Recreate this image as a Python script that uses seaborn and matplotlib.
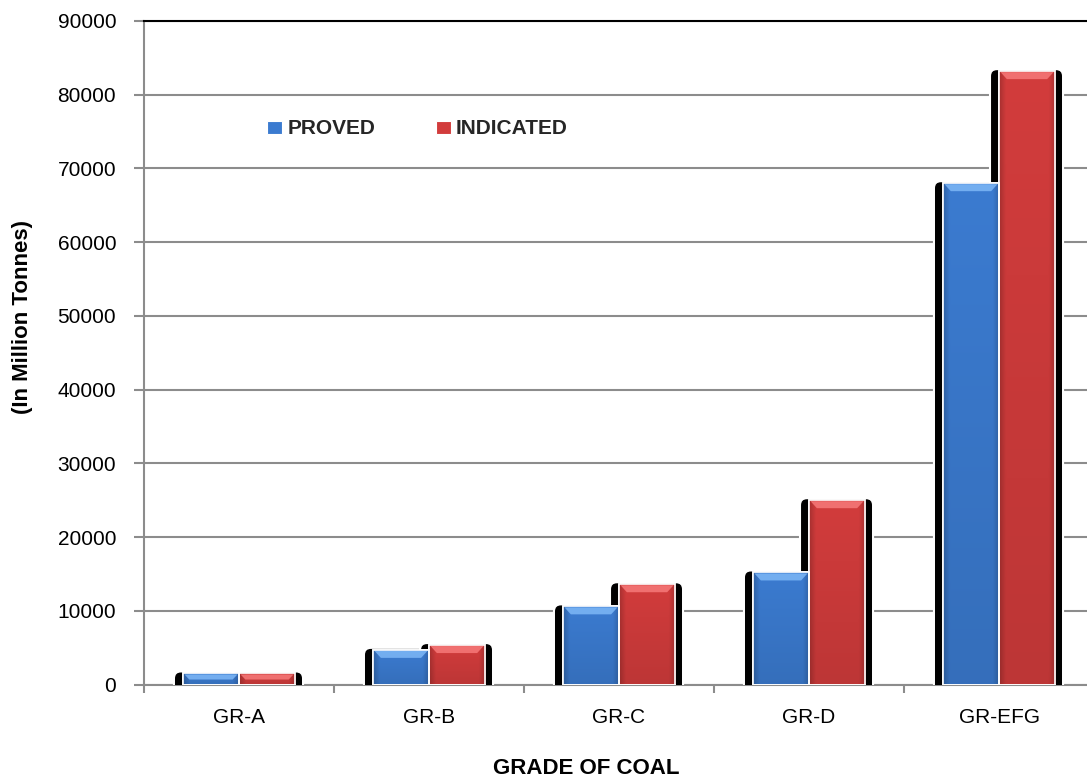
import numpy as np
import pandas as pd
import matplotlib
matplotlib.use("Agg")
import matplotlib.pyplot as plt
import seaborn as sns
from matplotlib.patches import FancyBboxPatch, Polygon, Patch
from matplotlib.transforms import IdentityTransform
from matplotlib.colors import to_rgb

# Coal reserves by grade (million tonnes)
grades = ["GR-A", "GR-B", "GR-C", "GR-D", "GR-EFG"]
proved = [1500, 4700, 10600, 15200, 68000]
indicated = [1500, 5350, 13600, 25000, 83200]
series = ["PROVED", "INDICATED"]
y_ticks = list(range(0, 90001, 10000))

colors = {"PROVED": "#3b7bd0", "INDICATED": "#d23c3c"}
highlights = {"PROVED": "#7ab4f4", "INDICATED": "#f47676"}

sns.set_theme(style="white")
plt.rcParams["font.family"] = ["Liberation Sans", "DejaVu Sans"]

df = pd.DataFrame({
    "grade": grades * 2,
    "reserve": proved + indicated,
    "type": [series[0]] * len(grades) + [series[1]] * len(grades),
})

W, H = 1087, 781
fig = plt.figure(figsize=(W / 100, H / 100), dpi=100)
ax = fig.add_axes([144 / W, 96.5 / H, 950 / W, 663.5 / H])

sns.barplot(data=df, x="grade", y="reserve", hue="type", hue_order=series,
            palette=colors, width=0.59, edgecolor="white", linewidth=1.2,
            saturation=1, legend=False, ax=ax, zorder=3)

ax.set_xlim(-0.5, len(grades) - 0.5)
ax.set_ylim(0, 90000)
ax.set_yticks(y_ticks)
ax.set_yticklabels([str(v) for v in y_ticks])
ax.set_xlabel("")
ax.set_ylabel("")

grey = "#8c8c8c"
ax.yaxis.grid(True, color=grey, linewidth=1.5)
ax.set_axisbelow(True)
for side in ("left", "bottom"):
    ax.spines[side].set_color(grey)
    ax.spines[side].set_linewidth(1.5)
ax.spines["top"].set_color("black")
ax.spines["top"].set_linewidth(1.5)
ax.spines["right"].set_visible(False)

ax.tick_params(axis="y", left=True, length=7, width=1.5, color=grey,
               pad=13, labelsize=15, labelcolor="black")
ax.set_xticks(np.arange(-0.5, len(grades), 1.0), minor=True)
ax.tick_params(axis="x", which="minor", bottom=True, length=6, width=1.5, color=grey)
ax.tick_params(axis="x", which="major", length=0, pad=17, labelsize=15, labelcolor="black")

# Shadows and bevel shading for each bar
bars = [p for p in ax.patches]
for i, bar in enumerate(bars):
    key = series[i // len(grades)]
    x0, y0 = bar.get_x(), bar.get_y()
    w, h = bar.get_width(), bar.get_height()
    (px0, py0) = ax.transData.transform((x0, y0))
    (px1, py1) = ax.transData.transform((x0 + w, y0 + h))

    shadow = FancyBboxPatch((px0 - 9, py0 - 10), (px1 - px0) + 17, (py1 - py0) + 12,
                            boxstyle="round,pad=0,rounding_size=7",
                            facecolor="black", edgecolor="white", linewidth=1.5,
                            transform=IdentityTransform(), zorder=2.6)
    ax.add_patch(shadow)

    base = np.array(to_rgb(colors[key]))
    nx, ny = 80, 120
    xs = np.linspace(0, 1, nx)
    ys = np.linspace(0, 1, ny)[:, None]
    edge = np.clip(np.minimum(xs, 1 - xs) / 0.12, 0, 1)[None, :]
    shade = (0.80 + 0.20 * edge) * (0.90 + 0.10 * (1 - ys))
    img = np.clip(base[None, None, :] * shade[:, :, None], 0, 1)
    im = ax.imshow(img, extent=(x0, x0 + w, y0, y0 + h), origin="upper",
                   aspect="auto", zorder=3.2, interpolation="bilinear")
    im.set_clip_path(bar)

    bev = min(8, (py1 - py0) * 0.55)
    top = Polygon([(px0 + 1.5, py1 - 1), (px1 - 1.5, py1 - 1),
                   (px1 - 1.5 - bev * 0.8, py1 - bev), (px0 + 1.5 + bev * 0.8, py1 - bev)],
                  closed=True, facecolor=highlights[key], edgecolor="none", alpha=0.9,
                  transform=IdentityTransform(), zorder=3.4)
    ax.add_patch(top)

    outline = FancyBboxPatch((px0, py0), px1 - px0, py1 - py0, boxstyle="square,pad=0",
                             facecolor="none", edgecolor="white", linewidth=1.2,
                             transform=IdentityTransform(), zorder=3.6)
    ax.add_patch(outline)

ax.set_xlim(-0.5, len(grades) - 0.5)
ax.set_ylim(0, 90000)

handles = [Patch(facecolor=colors[s], edgecolor="white", linewidth=0.8) for s in series]
fig.legend(handles, series, loc="center left",
           bbox_to_anchor=(267 / W, (H - 129) / H), ncol=2, frameon=False,
           prop={"weight": "bold", "size": 15}, handlelength=0.72, handleheight=0.6,
           handletextpad=0.25, columnspacing=2.9, borderpad=0, borderaxespad=0)

fig.text(23 / W, (H - 316.5) / H, "(In Million Tonnes)", rotation=90,
         ha="center", va="center", fontsize=16, fontweight="bold", color="black")
fig.text(586.5 / W, (H - 768) / H, "GRADE OF COAL", ha="center", va="center",
         fontsize=16, fontweight="bold", color="black")

fig.savefig("out.png", dpi=100)
